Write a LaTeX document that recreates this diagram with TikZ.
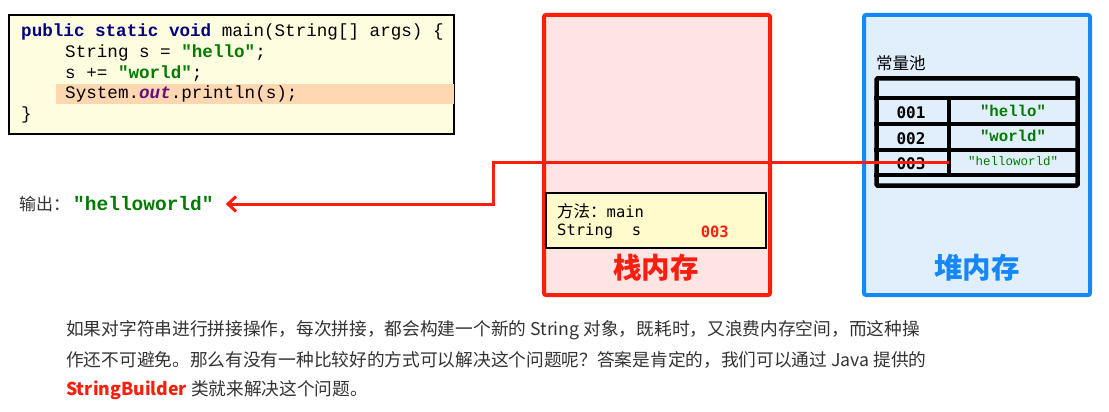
\documentclass[tikz,border=0pt]{standalone}
\usepackage{fontspec}
\setmainfont{Liberation Serif}
\newfontfamily\cjk{Noto Sans CJK SC}
\newfontfamily\cmono{Liberation Mono}
\newfontfamily\dmono{DejaVu Sans Mono}
\usetikzlibrary{arrows.meta}
\definecolor{kwblue}{RGB}{0,0,128}
\definecolor{strgreen}{RGB}{0,122,0}
\definecolor{purp}{RGB}{102,14,122}
\definecolor{codebg}{RGB}{255,253,224}
\definecolor{hlbg}{RGB}{253,215,178}
\definecolor{methodbg}{RGB}{255,251,204}
\definecolor{stackfill}{RGB}{255,228,228}
\definecolor{stackred}{RGB}{250,30,15}
\definecolor{heapfill}{RGB}{225,238,252}
\definecolor{heapblue}{RGB}{22,136,245}
\definecolor{textgray}{RGB}{51,51,51}
\begin{document}
\begin{tikzpicture}[x=1pt,y=-1pt,
  codebox/.style={draw=black,line width=2pt,fill=codebg,minimum width=445pt,minimum height=119pt,inner sep=0pt},
  codeline/.style={anchor=base west,inner sep=0pt,font=\cmono\fontsize{17.6}{20}\selectfont,text=black},
  membox/.style={line width=4pt,rounded corners=2pt,minimum width=226pt,minimum height=280pt,inner sep=0pt},
  methodbox/.style={draw=black,line width=1.5pt,fill=methodbg,minimum width=220pt,minimum height=55pt,inner sep=0pt},
  methodtext/.style={anchor=west,inner sep=0pt,font=\dmono\fontsize{15.5}{18}\selectfont},
  biglabel/.style={font=\cjk\bfseries\fontsize{28.5}{32}\selectfont,inner sep=0pt},
  tline/.style={line width=4.5pt,line cap=rect},
  addr/.style={font=\dmono\bfseries\fontsize{16}{18}\selectfont,inner sep=0pt},
  val/.style={font=\cmono\bfseries\fontsize{15.7}{18}\selectfont,text=strgreen,inner sep=0pt},
  para/.style={anchor=west,inner sep=0pt,font=\cjk\fontsize{17.7}{20}\selectfont,text=textgray},
  refline/.style={draw=stackred,line width=3pt},
]
\useasboundingbox[fill=white] (0,0) rectangle (1109,412);

% code box
\node[codebox] (code) at (231.5,74.5) {};
\fill[hlbg] (56,84) rectangle (453.5,104);
\node[codeline] (l1) at (21,37) {\textbf{\color{kwblue}public static void} main(String[] args) \{};
\node[codeline] (l2) at (65,58) {String s = \textbf{\color{strgreen}"hello"};};
\node[codeline] (l3) at (65,78) {s += \textbf{\color{strgreen}"world"};};
\node[codeline] (l4) at (65,99) {System.\textbf{\textit{\color{purp}out}}.println(s);};
\node[codeline] (l5) at (21,120) {\}};

% output
\node[anchor=west,inner sep=0pt] (out) at (19,204) {{\cjk\fontsize{17}{20}\selectfont\color{textgray}输出：}\hspace{3pt}{\cmono\bfseries\fontsize{19.5}{22}\selectfont\color{strgreen}"helloworld"}};

% stack
\node[membox,draw=stackred,fill=stackfill] (stack) at (657,155) {};
\node[methodbox] (method) at (656,220.5) {};
\node[methodtext] (m1) at (557,211) {{\cjk\fontsize{16.5}{18}\selectfont 方法：}main};
\node[methodtext] (m2) at (557,231.5) {String\ \ s};
\node[methodtext,anchor=east,text=stackred,font=\dmono\bfseries\fontsize{15.5}{18}\selectfont] (m3) at (729,232) {003};
\node[biglabel,text=stackred] (stacklabel) at (656,268) {栈内存};

% heap
\node[membox,draw=heapblue,fill=heapfill] (heap) at (977,155) {};
\node[anchor=west,inner sep=0pt,font=\cjk\fontsize{16.5}{20}\selectfont] (pool) at (876,63) {常量池};
\draw[tline,rounded corners=1pt] (876.5,78.5) rectangle (1077.5,185.5);
\draw[tline] (876.5,98) -- (1077.5,98);
\draw[tline] (876.5,124) -- (1077.5,124);
\draw[tline] (876.5,150) -- (1077.5,150);
\draw[tline] (876.5,175) -- (1077.5,175);
\draw[line width=4pt] (949,98) -- (949,175);
\node[addr] (a1) at (911,113) {001};
\node[addr] (a2) at (911,139) {002};
\node[addr] (a3) at (911,164) {003};
\node[val] (v1) at (1013,111) {"hello"};
\node[val] (v2) at (1013,136) {"world"};
\node[val,font=\cmono\fontsize{12.5}{14}\selectfont] (v3) at (1013,161) {"helloworld"};
\node[biglabel,text=heapblue] (heaplabel) at (977,268) {堆内存};

% reference connector
\coordinate (src) at (949,162);
\coordinate (bend) at (493,162);
\draw[refline,-{Straight Barb[length=8pt,width=15pt,line width=3pt]}] (src) -- (bend) |- ([xshift=12pt]out.east);

% paragraph
\node[para] (p1) at (66,330) {如果对字符串进行拼接操作，每次拼接，都会构建一个新的 String 对象，既耗时，又浪费内存空间，而这种操};
\node[para] (p2) at (66,360) {作还不可避免。那么有没有一种比较好的方式可以解决这个问题呢？答案是肯定的，我们可以通过 Java 提供的};
\node[para] (p3) at (66,390) {{\bfseries\color{stackred}StringBuilder} 类就来解决这个问题。};
\end{tikzpicture}
\end{document}
